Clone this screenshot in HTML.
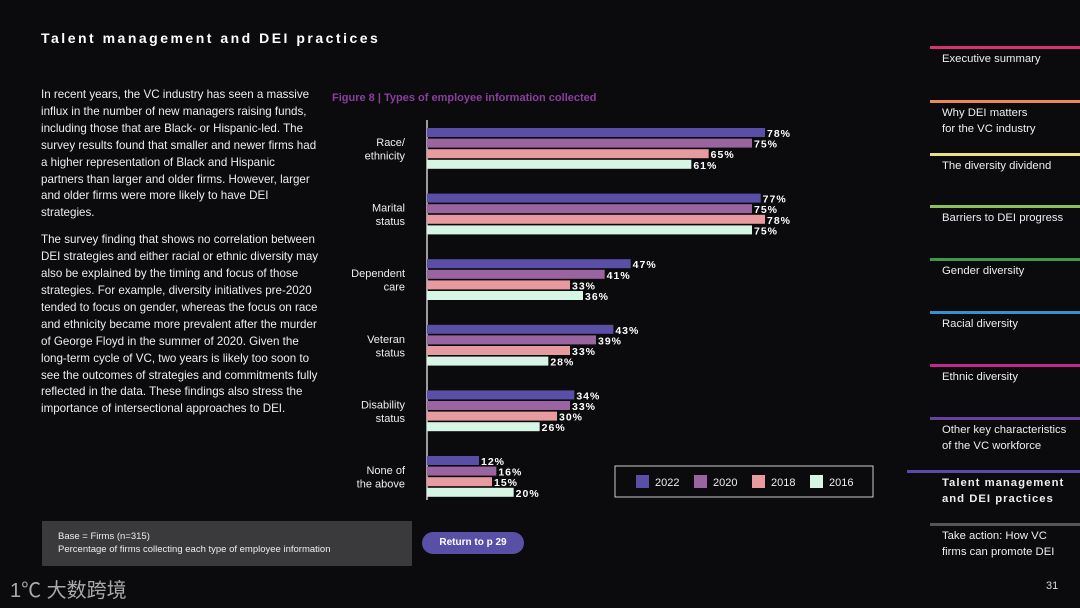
<!DOCTYPE html>
<html><head><meta charset="utf-8">
<style>
body{margin:0;width:1080px;height:608px;background:#0b0a0c;overflow:hidden;font-family:"Liberation Sans","Noto Sans CJK SC",sans-serif;color:#fff;position:relative}
.abs{position:absolute}
.title{left:41px;top:30px;font-size:14px;font-weight:bold;letter-spacing:2.5px}
.body{left:41px;top:87px;width:278px;font-size:11.6px;line-height:16.9px;color:#eee}
.body p{margin:0 0 10px}
.nav{left:942px;font-size:11.3px;line-height:16px;color:#eee}
.bar{position:absolute;height:3px}
.note{left:42px;top:521px;width:370px;height:45px;background:#3a3a3c;font-size:9.5px;line-height:13px;color:#eee;box-sizing:border-box;padding:9px 16px}
.btn{left:422px;top:532px;width:102px;height:22px;border-radius:11px;background:#5a4fa6;font-size:10px;font-weight:bold;text-align:center;line-height:22px}
</style></head><body>
<div class="abs title">Talent management and DEI practices</div>
<div class="abs body">
<p>In recent years, the VC industry has seen a massive influx in the number of new managers raising funds, including those that are Black- or Hispanic-led. The survey results found that smaller and newer firms had a higher representation of Black and Hispanic partners than larger and older firms. However, larger and older firms were more likely to have DEI strategies.</p>
<p>The survey finding that shows no correlation between DEI strategies and either racial or ethnic diversity may also be explained by the timing and focus of those strategies. For example, diversity initiatives pre-2020 tended to focus on gender, whereas the focus on race and ethnicity became more prevalent after the murder of George Floyd in the summer of 2020. Given the long-term cycle of VC, two years is likely too soon to see the outcomes of strategies and commitments fully reflected in the data. These findings also stress the importance of intersectional approaches to DEI.</p>
</div>
<svg class="abs" style="left:0;top:0" width="1080" height="608" id="chart">
<text x="332" y="101" font-size="11" font-weight="bold" fill="#8a3f9e">Figure 8  | Types of employee information collected</text>
<line x1="427" y1="120" x2="427" y2="500" stroke="#fff" stroke-width="1.2"/>
<g id="bars"></g>
<rect x="615" y="466" width="258" height="31" fill="none" stroke="#ccc" stroke-width="1"/>
<g id="legend"></g>
</svg>
<div class="abs note">Base = Firms (n=315)<br>Percentage of firms collecting each type of employee information</div>
<div class="abs btn">Return to p 29</div>
<div class="abs" style="left:10px;top:574px;font-size:20px;color:#aaa">1℃ 大数跨境</div>
<div class="abs" style="left:1046px;top:580px;font-size:11px;color:#ddd">31</div>
<div id="nav"></div>
<script>
const categories=["Race/\nethnicity","Marital\nstatus","Dependent\ncare","Veteran\nstatus","Disability\nstatus","None of\nthe above"];
const seriesNames=["2022","2020","2018","2016"];
const v2022=[78,77,47,43,34,12];
const v2020=[75,75,41,39,33,16];
const v2018=[65,78,33,33,30,15];
const v2016=[61,75,36,28,26,20];
const series=[v2022,v2020,v2018,v2016];
const colors=["#5a4fa6","#9a64a0","#e79aa0","#d6f5e4"];
const NS="http://www.w3.org/2000/svg";
const x0=427,scale=(765-427)/78;
const xs=v=>x0+v*scale;
const gy=i=>128+i*65.6;
const g=document.getElementById('bars');
categories.forEach((c,i)=>{
  const lines=c.split("\n");
  lines.forEach((l,k)=>{
    const t=document.createElementNS(NS,'text');
    
    
    t.setAttribute('x',405);t.setAttribute('y',gy(i)+18+k*13.5);
    t.setAttribute('text-anchor','end');t.setAttribute('font-size','11');t.setAttribute('fill','#eee');
    t.textContent=l;g.appendChild(t);
  });
  series.forEach((s,j)=>{
    const y=gy(i)+j*10.6;
    const r=document.createElementNS(NS,'rect');
    
    
    r.setAttribute('x',x0);r.setAttribute('y',y);r.setAttribute('width',xs(s[i])-x0);r.setAttribute('height',9);
    r.setAttribute('fill',colors[j]);g.appendChild(r);
    const t=document.createElementNS(NS,'text');
    
    
    t.setAttribute('x',xs(s[i])+2);t.setAttribute('y',y+9);
    t.setAttribute('font-size','10.5');t.setAttribute('font-weight','bold');t.setAttribute('fill','#fff');t.setAttribute('letter-spacing','1');
    t.textContent=s[i]+'%';g.appendChild(t);
  });
});
const lg=document.getElementById('legend');
seriesNames.forEach((n,j)=>{
  const x=636+j*58;
  const r=document.createElementNS(NS,'rect');
  
  
  r.setAttribute('x',x);r.setAttribute('y',475);r.setAttribute('width',13);r.setAttribute('height',13);r.setAttribute('fill',colors[j]);lg.appendChild(r);
  const t=document.createElementNS(NS,'text');
  
  
  t.setAttribute('x',x+19);t.setAttribute('y',486);t.setAttribute('font-size','11');t.setAttribute('fill','#eee');t.textContent=n;lg.appendChild(t);
});
const navItems=[["Executive summary",46,"#d6336f",930,false],["Why DEI matters<br>for the VC industry",100,"#e88a5a",930,false],["The diversity dividend",153,"#e8e08a",930,false],["Barriers to DEI progress",205,"#8cc05a",930,false],["Gender diversity",258,"#3d9a4a",930,false],["Racial diversity",311,"#3b8fd0",930,false],["Ethnic diversity",364,"#c02a8a",930,false],["Other key characteristics<br>of the VC workforce",417,"#6a3fa0",930,false],["Talent management<br>and DEI practices",470,"#5a4ab0",907,true],["Take action: How VC<br>firms can promote DEI",523,"#555",930,false]];
const nav=document.getElementById('nav');
navItems.forEach(n=>{
  const l=document.createElement('div');
  
  
  l.className='bar';l.style.left=n[3]+'px';l.style.top=n[1]+'px';l.style.width=(1080-n[3])+'px';l.style.background=n[2];
  nav.appendChild(l);
  const d=document.createElement('div');
  
  
  d.className='abs nav';d.style.top=(n[1]+5)+'px';d.innerHTML=n[0];
  if(n[4]){d.style.fontWeight='bold';d.style.letterSpacing='1px';}
  nav.appendChild(d);
});
</script>
</body></html>
